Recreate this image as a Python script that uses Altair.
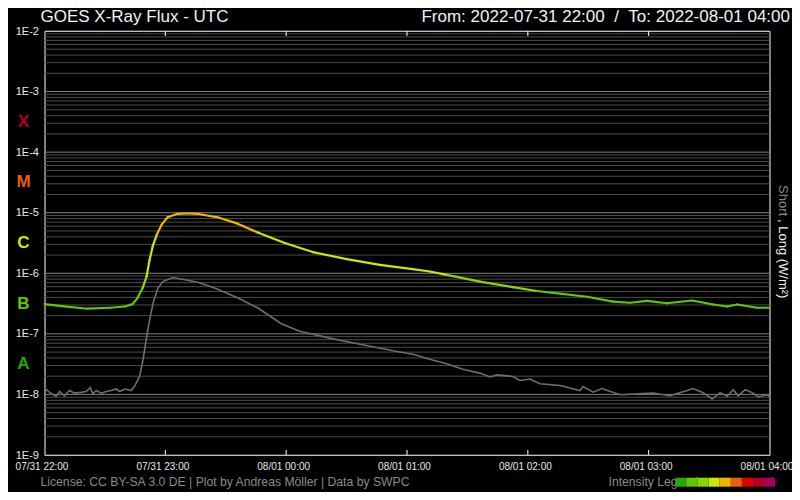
import json
import altair as alt
import pandas as pd

# ---------------- data ----------------
hour_minutes = [0, 60, 120, 180, 240, 300, 360]
hour_labels = ["07/31 22:00", "07/31 23:00", "08/01 00:00", "08/01 01:00",
               "08/01 02:00", "08/01 03:00", "08/01 04:00"]
decades = [1e-9, 1e-8, 1e-7, 1e-6, 1e-5, 1e-4, 1e-3, 1e-2]

# minutes after 2022-07-31 22:00 UTC
short_min = [0, 2.5, 5.8, 7.5, 9.9, 12.4, 14.9, 18.2, 20.7, 22.7, 24, 25.7, 28.2, 30.7, 33.1,
             35.6, 37.3, 39.8, 43.1, 44.7, 47.2, 48.9, 50.5, 52.2, 53.9, 56.3, 58.8, 63.8, 69.6,
             76.2, 84.5, 96.1, 106, 117.6, 126.7, 141.6, 158, 175, 183, 191.3, 199.8, 207.7,
             216.2, 221.2, 224.6, 232.6, 236, 241, 246, 256, 265.9, 267.4, 272.4, 276.8, 285.8,
             302.2, 310.6, 319.1, 322, 327, 331.5, 335.5, 339, 342, 344.4, 348, 351.9, 354.4,
             358.8, 360]
short_flux = [1.28e-8, 1.08e-8, 9.3e-9, 1.12e-8, 9.5e-9, 1.16e-8, 1.05e-8, 1.08e-8, 1.12e-8,
              1.3e-8, 1.02e-8, 1.16e-8, 1.05e-8, 1.12e-8, 1.16e-8, 1.23e-8, 1.12e-8, 1.23e-8,
              1.16e-8, 1.36e-8, 1.98e-8, 3.7e-8, 8e-8, 1.7e-7, 3.2e-7, 5.7e-7, 7.3e-7, 8.5e-7,
              7.8e-7, 7.1e-7, 5.7e-7, 3.9e-7, 2.67e-7, 1.47e-7, 1.1e-7, 8.5e-8, 6.6e-8, 5.1e-8,
              4.6e-8, 3.8e-8, 3.2e-8, 2.6e-8, 2.25e-8, 1.94e-8, 2.1e-8, 1.98e-8, 1.7e-8, 1.8e-8,
              1.5e-8, 1.4e-8, 1.16e-8, 1.35e-8, 1.09e-8, 1.25e-8, 9.9e-9, 1.05e-8, 9.5e-9,
              1.16e-8, 1.25e-8, 1.07e-8, 8.4e-9, 1.07e-8, 9.3e-9, 1.2e-8, 9.5e-9, 1.2e-8,
              1.05e-8, 9.1e-9, 9.9e-9, 9.1e-9]

long_min = [0, 7.5, 21.4, 32.3, 39.8, 43.7, 46.2, 48.7, 50.7, 52.2, 53.7, 55.7, 58.1, 61.1,
            66.1, 71, 76, 86, 95.9, 105.9, 119.3, 133.2, 150.1, 166.5, 182.9, 191.3, 199.8,
            216.2, 232.6, 244.5, 256, 269.4, 282.3, 290.7, 299.2, 309.1, 321.6, 332, 339,
            343.9, 353.9, 360]
long_flux = [3.1e-7, 2.9e-7, 2.6e-7, 2.7e-7, 2.83e-7, 3.1e-7, 3.9e-7, 5.7e-7, 8.9e-7, 1.67e-6,
             2.77e-6, 4.3e-6, 6.3e-6, 8.4e-6, 9.6e-6, 9.7e-6, 9.6e-6, 8.4e-6, 6.6e-6, 4.7e-6,
             3.16e-6, 2.24e-6, 1.71e-6, 1.38e-6, 1.17e-6, 1.07e-6, 9.4e-7, 7.3e-7, 5.9e-7,
             5.1e-7, 4.6e-7, 4.1e-7, 3.4e-7, 3.26e-7, 3.5e-7, 3.2e-7, 3.55e-7, 3.05e-7,
             2.83e-7, 3.05e-7, 2.7e-7, 2.7e-7]

class_letters = ["A", "B", "C", "M", "X"]
class_floor = [1e-8, 1e-7, 1e-6, 1e-5, 1e-4]
class_level = [0, 1, 3, 5, 7]

level_bounds = [1e-7, 5e-7, 1e-6, 5e-6, 1e-5, 5e-5, 1e-4, 5e-4]
intensity_colors = ["#22a80a", "#5ec800", "#88d800", "#cce800", "#f0b400",
                    "#e8600a", "#e00000", "#b00020", "#a80060"]

# ---------------- tables ----------------
FONT = "Liberation Sans"


def level(f):
    return sum(1 for b in level_bounds if f >= b)


short_df = pd.DataFrame({"t": short_min, "f": short_flux})
seg_df = pd.DataFrame({
    "t0": long_min[:-1], "t1": long_min[1:],
    "f0": long_flux[:-1], "f1": long_flux[1:],
})
seg_df["lvl"] = [level((a * b) ** 0.5) for a, b in zip(seg_df.f0, seg_df.f1)]

grid_minor = [k * d for d in decades[:-1] for k in range(2, 10)]
grid_df_minor = pd.DataFrame({"g": grid_minor})
grid_df_major = pd.DataFrame({"g": decades})
ticks_df = pd.DataFrame({"m": hour_minutes[1:-1]})
class_df = pd.DataFrame({
    "letter": class_letters,
    "mid": [c * 10 ** 0.5 for c in class_floor],
    "lvl": class_level,
})
one = pd.DataFrame({"a": [0]})

W, H = 725, 424
xscale = alt.Scale(domain=[0, 360], nice=False, zero=False)
yscale = alt.Scale(type="log", domain=[1e-9, 1e-2], nice=False)
cscale = alt.Scale(domain=list(range(9)), range=intensity_colors)

x_labels_expr = json.dumps(hour_labels) + "[round(datum.value/60)]"

yaxis = alt.Axis(values=decades, labelExpr="'1E-' + round(-log(datum.value)/LN10)",
                 tickSize=0, domain=False, grid=False, labelPadding=6, labelFontSize=11,
                 labelColor="#e8e8e8", labelFlush=False, labelOverlap=False, title=None,
                 labelFont=FONT)
xaxis = alt.Axis(values=hour_minutes, labelExpr=x_labels_expr, tickSize=0, domain=False,
                 grid=False, labelPadding=6, labelFontSize=10, labelColor="#e8e8e8",
                 labelFlush=False, labelOverlap=False, labelOffset=-3, title=None,
                 labelFont=FONT)

minor = alt.Chart(grid_df_minor).mark_rule(color="#4c4c4c", strokeWidth=1).encode(
    y=alt.Y("g:Q", scale=yscale, axis=yaxis))
major = alt.Chart(grid_df_major).mark_rule(color="#808080", strokeWidth=1).encode(
    y=alt.Y("g:Q", scale=yscale, axis=yaxis))

short_line = alt.Chart(short_df).mark_line(color="#6e6e6e", strokeWidth=1.6).encode(
    x=alt.X("t:Q", scale=xscale, axis=xaxis),
    y=alt.Y("f:Q", scale=yscale, axis=yaxis))

long_line = alt.Chart(seg_df).mark_rule(strokeWidth=2.2, strokeCap="round").encode(
    x=alt.X("t0:Q", scale=xscale, axis=xaxis), x2="t1:Q",
    y=alt.Y("f0:Q", scale=yscale, axis=yaxis), y2="f1:Q",
    color=alt.Color("lvl:O", scale=cscale, legend=None))

ticks_bottom = alt.Chart(ticks_df).mark_rule(color="#ffffff", strokeWidth=1).encode(
    x=alt.X("m:Q", scale=xscale, axis=xaxis), y=alt.value(H), y2=alt.value(H - 5))
ticks_top = alt.Chart(ticks_df).mark_rule(color="#ffffff", strokeWidth=1).encode(
    x=alt.X("m:Q", scale=xscale, axis=xaxis), y=alt.value(0), y2=alt.value(5))

letters = alt.Chart(class_df).mark_text(font=FONT, fontSize=17, fontWeight="bold",
                                         align="center", baseline="middle").encode(
    x=alt.value(-21), y=alt.Y("mid:Q", scale=yscale, axis=yaxis), text="letter:N",
    color=alt.Color("lvl:O", scale=cscale, legend=None))


def label(txt, x, y, size, color, align="left", angle=0, baseline="alphabetic"):
    return alt.Chart(one).mark_text(text=txt, font=FONT, fontSize=size, color=color,
                                    align=align, baseline=baseline, angle=angle).encode(
        x=alt.value(x), y=alt.value(y))


title_l = label("GOES X-Ray Flux - UTC", -4, -9.5, 17, "#f2f2f2")
title_r = label("From: 2022-07-31 22:00\u00a0\u00a0/\u00a0\u00a0To: 2022-08-01 04:00",
                745.5, -9.5, 17, "#f2f2f2", align="right")
ytitle_a = label("Short", 738.5, 154, 13, "#8a8a8a", angle=90, baseline="middle")
ytitle_b = label(", Long (W/m\u00b2)", 738.5, 188, 13, "#f0f0f0", angle=90, baseline="middle")
license_t = label("License: CC BY-SA 3.0 DE | Plot by Andreas M\u00f6ller | Data by SWPC",
                  -4, 454.5, 12.2, "#8a8a8a")
legend_t = label("Intensity Legend", 564, 454.5, 12.2, "#8a8a8a")

swatches = []
sw_w = 11.1
for i, c in enumerate(intensity_colors):
    x0 = 630.8 + i * sw_w
    swatches.append(alt.Chart(one).mark_rect(color=c).encode(
        x=alt.value(x0), x2=alt.value(x0 + sw_w), y=alt.value(446.7), y2=alt.value(455.7)))

chart = alt.layer(
    minor, major, short_line, long_line, ticks_bottom, ticks_top, letters,
    title_l, title_r, ytitle_a, ytitle_b, license_t, legend_t, *swatches
).resolve_scale(color="shared").properties(
    width=W, height=H,
    autosize=alt.AutoSizeParams(type="none"),
    padding={"left": 36.5, "top": 23, "right": 22.5, "bottom": 37},
    background="#000000",
).configure_view(stroke="#ffffff", strokeWidth=1)

chart.save("out.html", embed_options={"renderer": "svg", "actions": False})
